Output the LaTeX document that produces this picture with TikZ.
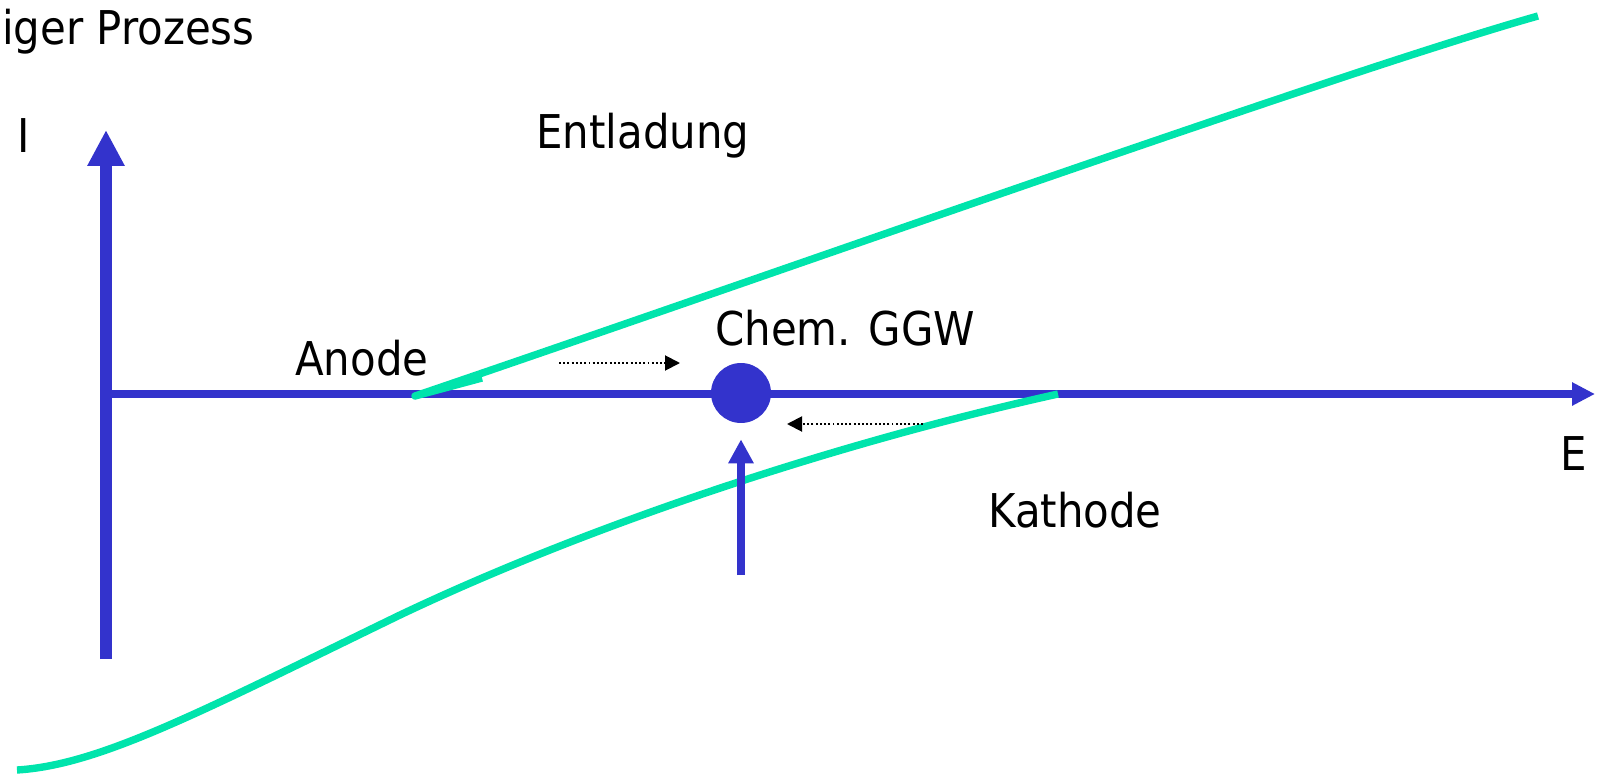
\documentclass[tikz,border=0pt]{standalone}
\usepackage{fontspec}
\setmainfont{DejaVu Sans Condensed}
\usetikzlibrary{arrows.meta}

\definecolor{axisblue}{RGB}{51,51,204}
\definecolor{curvegreen}{RGB}{0,228,172}

\begin{document}
\begin{tikzpicture}[x=0.02cm,y=-0.02cm,
  axis/.style={axisblue,line width=4.3pt},
  curve/.style={curvegreen,line width=4.2pt,line join=round},
  hint/.style={black,line width=1.1pt,dash pattern=on 1.1pt off 1.3pt,-{Triangle[length=0.3cm,width=0.3cm]}},
  lbl/.style={inner sep=0pt,anchor=base west,font=\fontsize{26.5}{30}\selectfont}]
\useasboundingbox (0,0) rectangle (1600,774);
% axes
\coordinate (O) at (100,394);
\coordinate (Ibot) at (106,659);
\coordinate (Itop) at (106,130);
\coordinate (Eend) at (1595,394);
\draw[axis,line width=6.8pt,-{Triangle[length=0.72cm,width=0.7cm]}] (Ibot) -- (Itop);
\draw[axis,-{Triangle[length=0.46cm,width=0.44cm]}] (O) -- (Eend);
\node[circle,fill=axisblue,inner sep=0pt,minimum size=1.2cm] (ggw) at (741,393) {};
% current curves
\draw[curve] (482,378) -- (415,396) .. controls (800,265) and (1340,72) .. (1538,16);
\fill[curvegreen] (415,396) circle (3.5);
\draw[curve] (1058,394) .. controls (850,440) and (600,520) .. (400,615) .. controls (200,712) and (100,765) .. (17,770);
\coordinate (push) at (741,575);
\draw[axis,line width=4.6pt,shorten >=0.32cm,-{Triangle[length=0.48cm,width=0.48cm]}] (push) -- (ggw.south);
% shift of the equilibrium
\coordinate (a1) at (559,363);
\coordinate (a2) at (680,363);
\coordinate (k1) at (923,424);
\coordinate (k2) at (787,424);
\draw[hint] (a1) -- (a2);
\draw[hint] (k1) -- (k2);
% labels
\node[lbl] (prozess) at (2,44) {iger Prozess};
\node[lbl] (ilabel) at (17,152) {I};
\node[lbl] (elabel) at (1560,470) {E};
\node[lbl] (entl) at (536,148) {Entladung};
\node[lbl] (chem) at (715,345) {Chem. GGW};
\node[lbl] (anode) at (295,375) {Anode};
\node[lbl] (kathode) at (988,527) {Kathode};
\end{tikzpicture}
\end{document}
